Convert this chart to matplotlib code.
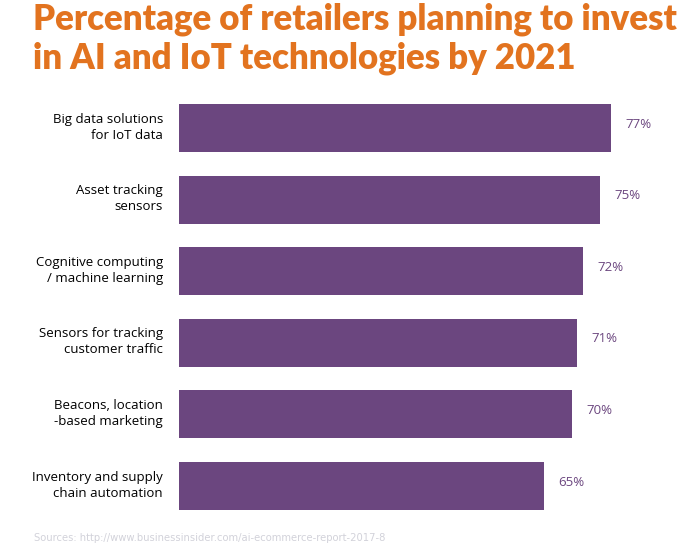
import matplotlib
matplotlib.use('Agg')
import matplotlib.pyplot as plt
from matplotlib.transforms import ScaledTranslation

categories = [
    'Big data solutions\nfor IoT data',
    'Asset tracking\nsensors',
    'Cognitive computing\n/ machine learning',
    'Sensors for tracking\ncustomer traffic',
    'Beacons, location\n-based marketing',
    'Inventory and supply\nchain automation',
]
values = [77, 75, 72, 71, 70, 65]
value_labels = ['77%', '75%', '72%', '71%', '70%', '65%']

title = 'Percentage of retailers planning to invest\nin AI and IoT technologies by 2021'
source = 'Sources: http://www.businessinsider.com/ai-ecommerce-report-2017-8'

bar_color = '#6b467f'
title_color = '#e2731f'

fig = plt.figure(figsize=(7, 5.59), dpi=100)
ax = fig.add_axes([0.2557, 0.0665, 0.7443, 0.7685])

pos = list(range(len(values)))
ax.barh(pos, values, height=0.67, color=bar_color)
ax.set_xlim(0, 92.9)
ax.set_ylim(5.5, -0.5)

# nudge labels up a little, like the original layout
up = ScaledTranslation(0, 4 / 100, fig.dpi_scale_trans)

for p, v, lab in zip(pos, values, value_labels):
    ax.text(v + 2.6, p, lab, va='center', ha='left', color=bar_color,
            fontsize=9.5, family='Open Sans', transform=ax.transData + up)

ax.set_yticks(pos)
ax.set_yticklabels(categories, fontsize=9.5, family='Open Sans', linespacing=1.3)
ax.tick_params(axis='y', length=0, pad=11.5)
for lbl in ax.get_yticklabels():
    lbl.set_transform(lbl.get_transform() + up)
ax.set_xticks([])
for s in ax.spines.values():
    s.set_visible(False)

fig.text(33 / 700, 1 - 2 / 559, title, ha='left', va='top', color=title_color,
         fontsize=25, fontweight='heavy', family='Lato', linespacing=1.22)
fig.text(34 / 700, 1 - 538 / 559, source, ha='left', va='center', color='#d2d2da',
         fontsize=7.2, family='DejaVu Sans')

fig.savefig('out.png', dpi=100)
